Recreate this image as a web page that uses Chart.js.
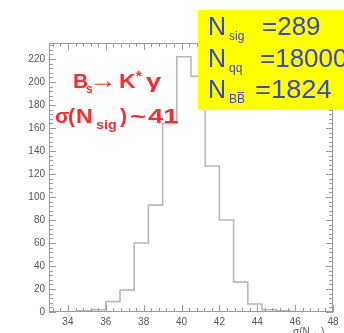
<!doctype html>
<html>
<head>
    <title>sigma Nsig</title>
    <script src="https://cdn.jsdelivr.net/npm/chart.js"></script>
    <style>
        body { margin: 0; background: #fff; }
    </style>
</head>
<body>
    <canvas id="histo" width="344" height="333"></canvas>

    <script>
        // bin edges (0.75 wide) and entries per bin
        var binEdges = [33, 33.75, 34.5, 35.25, 36, 36.75, 37.5, 38.25, 39, 39.75, 40.5,
                        41.25, 42, 42.75, 43.5, 44.25, 45, 45.75, 46.5, 47.25, 48];
        var counts = [0, 0, 0, 1, 2, 9, 19, 60, 93, 164, 222, 205, 127, 80, 26, 7, 2, 1, 0, 0];
        var xTicks = [34, 36, 38, 40, 42, 44, 46, 48];
        var yTicks = [0, 20, 40, 60, 80, 100, 120, 140, 160, 180, 200, 220];

        var punti = binEdges.map(function (e, i) {
            return { x: e, y: i < counts.length ? counts[i] : counts[counts.length - 1] };
        });

        var gray = '#9a9a9a';
        var FONT = '"Liberation Sans", Arial, sans-serif';

        // text piece, optionally stretched in x
        function testo(ctx, s, x, y, size, bold, fx) {
            ctx.save();
            ctx.font = (bold ? 'bold ' : '') + size + 'px ' + FONT;
            ctx.translate(x, y);
            ctx.scale(fx || 1, 1);
            ctx.fillText(s, 0, 0);
            ctx.restore();
        }

        // ROOT-like frame with ticks inside
        var cornice = {
            id: 'cornice',
            afterDraw: function (chart) {
                var ctx = chart.ctx, a = chart.chartArea;
                var sx = chart.scales.x, sy = chart.scales.y;
                ctx.save();
                ctx.strokeStyle = gray;
                ctx.lineWidth = 1;
                ctx.strokeRect(a.left + 0.5, a.top + 0.5, a.right - a.left - 1, a.bottom - a.top - 1);
                ctx.beginPath();
                for (var v = 33.2; v <= 48.01; v += 0.4) {
                    var px = Math.round(sx.getPixelForValue(v)) + 0.5;
                    var major = Math.abs((v - 34) / 2 - Math.round((v - 34) / 2)) < 0.01;
                    var len = major ? 7 : 4;
                    ctx.moveTo(px, a.bottom); ctx.lineTo(px, a.bottom - len);
                    ctx.moveTo(px, a.top); ctx.lineTo(px, a.top + len);
                }
                for (var w = 0; w <= 232; w += 4) {
                    var py = Math.round(sy.getPixelForValue(w)) + 0.5;
                    var lenY = (w % 20 === 0) ? 7 : 4;
                    ctx.moveTo(a.left, py); ctx.lineTo(a.left + lenY, py);
                    ctx.moveTo(a.right, py); ctx.lineTo(a.right - lenY, py);
                }
                ctx.stroke();

                // red annotations
                ctx.textBaseline = 'alphabetic';
                ctx.fillStyle = '#ff2a2a';
                testo(ctx, 'B', 73, 88, 21, true);
                testo(ctx, 's', 86, 93, 12, true);
                testo(ctx, '\u2192', 89, 88, 24, true, 1.15);
                testo(ctx, 'K', 119, 88, 21, true, 1.1);
                testo(ctx, '*', 136, 81, 14, true);
                testo(ctx, '\u03b3', 146, 88, 21, true, 1.3);
                testo(ctx, '\u03c3', 55, 123, 21, true);
                testo(ctx, '(', 68, 123, 21, true);
                testo(ctx, 'N', 76, 123, 21, true, 1.1);
                testo(ctx, 'sig', 96, 129, 13, true, 1.1);
                testo(ctx, ')', 120, 123, 21, true);
                testo(ctx, '~', 130, 123, 21, true, 1.3);
                testo(ctx, '41', 148, 123, 21, true, 1.3);

                // yellow stats box
                ctx.fillStyle = '#ffff00';
                ctx.fillRect(198, 10, 146, 100);
                ctx.fillStyle = '#3a48c4';
                testo(ctx, 'N', 208, 35, 25, false);
                testo(ctx, 'sig', 229, 40, 12, false);
                testo(ctx, '=289', 262, 35, 26, false);
                testo(ctx, 'N', 208, 67, 25, false);
                testo(ctx, 'qq', 229, 72, 12, false);
                testo(ctx, '=18000', 260, 67, 26, false);
                testo(ctx, 'N', 208, 98, 25, false);
                testo(ctx, 'BB\u0305', 229, 103, 12, false);
                testo(ctx, '=1824', 255, 98, 26, false, 1.05);

                // axis title, cut at the edge
                ctx.fillStyle = '#555';
                testo(ctx, '\u03c3(N', 293, 335, 10, false);
                testo(ctx, 'sig', 311, 337, 7, false);
                testo(ctx, ')', 321, 335, 10, false);
                ctx.restore();
            }
        };

        var grafico = new Chart(document.getElementById('histo').getContext('2d'), {
            type: 'line',
            data: {
                datasets: [{
                    data: punti,
                    stepped: 'after',
                    borderColor: '#b8b8b8',
                    borderWidth: 1.6,
                    pointRadius: 0,
                    fill: false
                }]
            },
            options: {
                responsive: false,
                animation: false,
                devicePixelRatio: 1,
                layout: { padding: { left: 0, top: 43, right: 11, bottom: 0 } },
                plugins: { legend: { display: false }, tooltip: { enabled: false } },
                scales: {
                    x: {
                        type: 'linear',
                        min: 33,
                        max: 48,
                        grid: { display: false, drawTicks: false },
                        border: { display: false },
                        afterBuildTicks: function (s) { s.ticks = xTicks.map(function (v) { return { value: v }; }); },
                        afterFit: function (s) { s.height = 21; },
                        ticks: {
                            padding: 4,
                            maxRotation: 0,
                            autoSkip: false,
                            color: '#555',
                            font: { family: FONT, size: 10 }
                        }
                    },
                    y: {
                        min: 0,
                        max: 234,
                        grid: { display: false, drawTicks: false },
                        border: { display: false },
                        afterBuildTicks: function (s) { s.ticks = yTicks.map(function (v) { return { value: v }; }); },
                        afterFit: function (s) { s.width = 49; },
                        ticks: {
                            padding: 4,
                            autoSkip: false,
                            color: '#555',
                            font: { family: FONT, size: 10 }
                        }
                    }
                }
            },
            plugins: [cornice]
        });
    </script>
</body>
</html>
